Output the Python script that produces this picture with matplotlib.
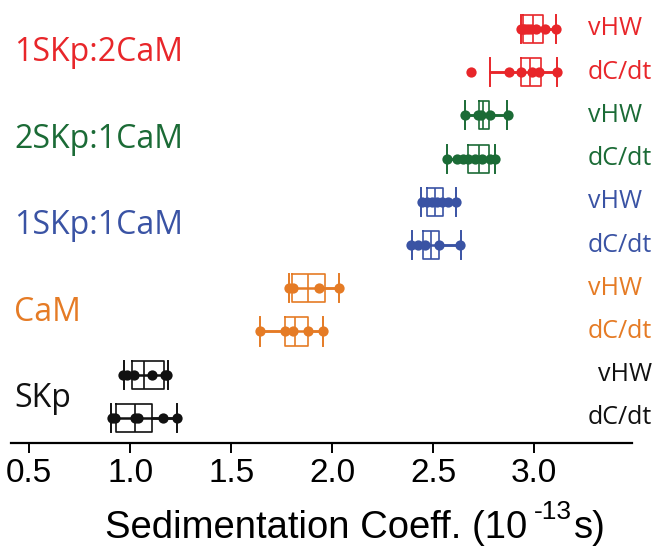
import matplotlib
matplotlib.use('Agg')
import matplotlib.pyplot as plt
from matplotlib.transforms import blended_transform_factory

# groups, top to bottom; each group has a vHW row and a dC/dt row
groups = ['1SKp:2CaM', '2SKp:1CaM', '1SKp:1CaM', 'CaM', 'SKp']
colors = ['#e8262a', '#1b6b36', '#3a53a4', '#e57b25', '#111111']
methods = ['vHW', 'dC/dt']

# individual measurements (10^-13 s)
red_vhw = [2.936, 2.945, 2.955, 2.970, 2.985, 3.010, 3.054, 3.109]
red_dcdt = [2.686, 2.878, 2.934, 2.989, 3.026, 3.112]
green_vhw = [2.658, 2.724, 2.738, 2.782, 2.870]
green_dcdt = [2.570, 2.620, 2.650, 2.675, 2.708, 2.741, 2.783, 2.807]
blue_vhw = [2.444, 2.469, 2.494, 2.518, 2.543, 2.576, 2.612]
blue_dcdt = [2.390, 2.427, 2.460, 2.531, 2.634]
orange_vhw = [1.786, 1.808, 1.937, 2.033]
orange_dcdt = [1.644, 1.767, 1.808, 1.880, 1.957]
black_vhw = [0.967, 0.984, 1.021, 1.110, 1.172, 1.180]
black_dcdt = [0.909, 0.925, 1.025, 1.040, 1.162, 1.231]
row_points = [red_vhw, red_dcdt, green_vhw, green_dcdt, blue_vhw, blue_dcdt,
              orange_vhw, orange_dcdt, black_vhw, black_dcdt]

# box statistics per row (same order)
whis_lo = [2.937, 2.782, 2.658, 2.570, 2.441, 2.394, 1.787, 1.644, 0.970, 0.904]
box_q1 = [2.946, 2.934, 2.728, 2.673, 2.470, 2.452, 1.800, 1.767, 1.008, 0.931]
box_med = [2.995, 2.980, 2.749, 2.729, 2.510, 2.489, 1.883, 1.815, 1.069, 1.025]
box_q3 = [3.045, 3.033, 2.779, 2.776, 2.550, 2.531, 1.965, 1.880, 1.168, 1.107]
whis_hi = [3.109, 3.112, 2.868, 2.807, 2.612, 2.637, 2.033, 1.957, 1.187, 1.231]

xticks = [0.5, 1.0, 1.5, 2.0, 2.5, 3.0]

label_font = 'Open Sans'
num_font = 'Liberation Sans'

fig = plt.figure(figsize=(6.55, 5.52), dpi=100)
ax = fig.add_axes([11 / 655, 109 / 552, 621 / 655, 443 / 552])
fig_x_data_y = blended_transform_factory(fig.transFigure, ax.transData)

for i, pts in enumerate(row_points):
    c = colors[i // 2]
    ax.hlines(i, whis_lo[i], whis_hi[i], color=c, lw=1.8, zorder=2)
    stats = [dict(med=box_med[i], q1=box_q1[i], q3=box_q3[i],
                  whislo=whis_lo[i], whishi=whis_hi[i], fliers=[])]
    ax.bxp(stats, positions=[i], widths=0.65, capwidths=0.65,
           orientation='horizontal', manage_ticks=False,
           boxprops=dict(color=c, lw=1.2),
           medianprops=dict(color=c, lw=1.2),
           whiskerprops=dict(color=c, lw=1.8),
           capprops=dict(color=c, lw=1.4))
    ax.plot(pts, [i] * len(pts), 'o', color=c, ms=7.4, mew=0, zorder=3)
    # the black vHW label sits flush right, the others start at the same x
    if i == 8:
        ax.text(652 / 655, i, methods[i % 2], transform=fig_x_data_y,
                ha='right', va='center', color=c, fontsize=18,
                family=label_font, clip_on=False)
    else:
        ax.text(588 / 655, i, methods[i % 2], transform=fig_x_data_y,
                ha='left', va='center', color=c, fontsize=18,
                family=label_font, clip_on=False)

for g, name in enumerate(groups):
    ax.text(0.005, 2 * g + 0.55, name, transform=ax.get_yaxis_transform(),
            ha='left', va='center', color=colors[g], fontsize=23,
            family=label_font)

ax.set_xlim(0.41, 3.485)
ax.set_ylim(9.58, -0.67)
ax.set_yticks([])
for s in ['left', 'right', 'top']:
    ax.spines[s].set_visible(False)
ax.spines['bottom'].set_linewidth(1.6)
ax.set_xticks(xticks)
ax.set_xticklabels(['%.1f' % t for t in xticks], family=num_font, fontsize=24)
ax.tick_params(axis='x', direction='out', length=7, width=1.4, pad=4)

# x label with superscript exponent
t1 = fig.text(105 / 655, 6 / 552, 'Sedimentation Coeff. (10', family=num_font,
              fontsize=27.5, ha='left', va='bottom')
t2 = ax.annotate('-13', xy=(1, 0), xycoords=t1, xytext=(5, 16),
                 textcoords='offset points', family=num_font, fontsize=19,
                 ha='left', va='bottom', annotation_clip=False)
ax.annotate('s)', xy=(1, 0), xycoords=(t2, t1), xytext=(1, 0),
            textcoords='offset points', family=num_font, fontsize=27.5,
            ha='left', va='bottom', annotation_clip=False)

fig.savefig('out.png', dpi=100)
